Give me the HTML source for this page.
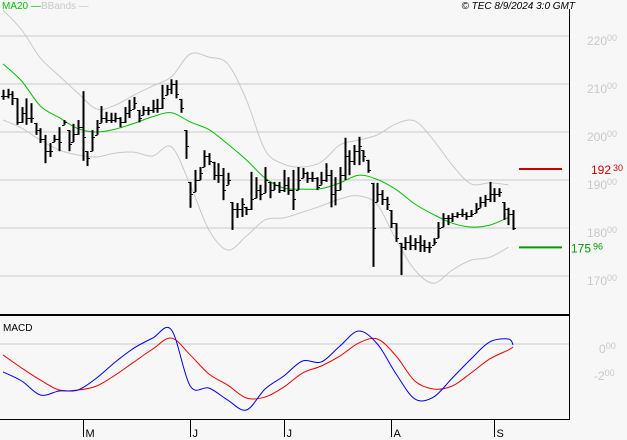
<!DOCTYPE html>
<html><head><meta charset="utf-8">
<style>
html,body{margin:0;padding:0;background:#f7f7f7;}
svg{display:block;font-family:"Liberation Sans",sans-serif;}
</style></head>
<body>
<svg id="chart" width="627" height="440" viewBox="0 0 627 440" xmlns="http://www.w3.org/2000/svg">
<rect x="0" y="0" width="627" height="440" fill="#f7f7f7"/>
<g id="grid"></g>
<g id="bands"></g>
<g id="ma"></g>
<g id="bars"></g>
<g id="macd"></g>
<g id="axes"></g>
<text x="2" y="9" font-size="10" fill="#00c000">MA20 —</text>
<text x="41" y="9" font-size="10" fill="#c8c8c8">BBands —</text>
<text x="575" y="9" font-size="10" font-style="italic" fill="#000" text-anchor="end">© TEC 8/9/2024 3:0 GMT</text>
<text x="3" y="331" font-size="10" fill="#000">MACD</text>
</svg>
<script>
const highs=[208.8,209,208.5,207,205.2,207,206,201.9,200.8,199.4,197.7,199.4,201,202.5,200.4,201.7,202.5,208.5,196,200.4,202.5,205.4,204.2,204,204,203.1,205.2,206.7,207.3,204.6,205.4,205.2,206.7,206.9,209.8,209.8,211,210.8,206.9,200.4,189.6,192.1,192.7,196.2,195.6,193.8,193.5,192.5,191.5,185.4,185.2,186.2,184.4,191.7,190.6,189,192.7,189.6,189.6,189.6,192.1,190.6,192.1,192.7,192.5,191.7,191.7,190.6,191.7,193.5,192.1,190.6,192.7,198.8,196.2,197.3,199,196.2,194.2,189.4,189.4,187.9,186.5,183.75,181,176.9,178.1,178.5,177.9,178.5,177.5,177.1,177.9,181.25,183.1,182.7,183.1,183.3,184,183.3,183.75,185.2,186.5,186.9,189.6,188.3,188.3,185.4,184.2,183.75];
const lows=[206.7,207,205.6,201.5,201.9,201.5,201.9,199.4,197.7,193.5,194.8,197.9,196,201.5,196,197.9,199.4,194,192.9,196,199.4,201.9,201.9,201.9,202,201,201.9,202.9,204.8,202,203.5,203.5,204,204,204.8,207.7,207.9,207,204,194.4,184.2,187.5,190,192.7,193.1,190,189.4,185.8,189,179.6,182.1,182.3,182.7,183.75,186.2,185.8,187.3,186.2,187.9,187.3,187.5,186.9,183.75,187.9,190.4,189.4,189.6,187.9,189,189.6,184.3,184.7,187.9,190,191,193.1,193.1,193.8,191.5,171.9,185.4,184.8,183.75,180,177.1,170.2,175.4,175.4,175.4,175,175,174.8,176.5,177.9,180.2,180.6,181.25,182.1,182.3,181.7,182.3,183.1,184.2,184.4,185.4,185.4,186.5,181.7,180.6,179.6];
const closes=[207.5,208,207,202,204,203,203,200.5,198.5,196,196,198.5,198,202,197.5,199.5,201,199,194.5,199,201,203,202.5,202.5,203,202,204,204.5,206,203,204.5,204.5,205,205,207,209,210,208,205,197,187,190,191.5,195,194,191,191,188,190,184,184,185,184,186,188,187,190,188,189,188,189,188,186,190,191.5,190.5,190.5,188.5,190,191,187,188,191,195,194,196,197,195,192,180,187,186,185,181,178,176,177,176.5,177,176.5,176,176,177,180,182,182,182.5,183,183,182.5,183,184,185.5,186,187,187,187.5,184,183,180];
// MA20 and Bollinger values sampled every 4 bars (last at final bar)
const ma20=[214.2,210.6,205.4,203,200.7,200,200.6,201.8,203.2,204,202.1,200.5,197.5,194.2,190.4,188.3,188.1,188.2,189.4,191,190.1,188,185,182.8,181,180.2,180.6,182.2];
const bbUpper=[225.4,221.25,215.4,211.7,208.1,204.8,205.6,207.7,209.6,211.5,216.25,215.6,214.2,206.7,196.25,193.3,192.7,193.75,197.3,198.3,199.4,201.7,202.3,198.3,193.1,189.2,189.4,189];
const bbLower=[202.5,200.8,198.3,196.25,195.2,194.8,195.6,195.8,195,196.9,189,179.6,175.4,178.3,181.7,182.1,183.3,184.6,186.05,186.7,184.8,177.5,171.25,168.5,171.25,173.3,173.9,176];
const macdLine=[-207,-274,-378,-348,-341,-252,-133,-30,44,104,-311,-326,-415,-489,-333,-237,-126,-133,-15,96,0,-222,-407,-393,-252,-111,15,37,-7];
const signalLine=[-81,-178,-267,-341,-341,-311,-230,-133,-37,44,-81,-222,-304,-400,-393,-319,-215,-163,-89,7,37,-89,-274,-333,-311,-215,-111,-44,-22];
const priceTicks=[220,210,200,190,180,170];
const macdTicks=[0,-200];
const months=["M","J","J","A","S"];
const monthBars=[17,40,60,83,105];
const resistance=192.30, support=175.96;

const NS="http://www.w3.org/2000/svg";
const xOf=i=>3+i*4.68;
const yP=p=>132+(200-p)*4.8;
const yM=v=>344-v*0.135;
function mk(tag,attrs,parent){const e=document.createElementNS(NS,tag);for(const k in attrs)e.setAttribute(k,attrs[k]);parent.appendChild(e);return e;}
const $=id=>document.getElementById(id);
const sampleIdx=k=>Math.min(k*4,highs.length-1);
function smooth(pts){
  let d='M'+pts[0][0]+','+pts[0][1];
  for(let i=0;i<pts.length-1;i++){
    const p0=pts[i-1]||pts[i],p1=pts[i],p2=pts[i+1],p3=pts[i+2]||p2;
    const c1=[p1[0]+(p2[0]-p0[0])/6,p1[1]+(p2[1]-p0[1])/6];
    const c2=[p2[0]-(p3[0]-p1[0])/6,p2[1]-(p3[1]-p1[1])/6];
    d+=' C'+c1[0]+','+c1[1]+' '+c2[0]+','+c2[1]+' '+p2[0]+','+p2[1];
  }
  return d;
}

priceTicks.forEach(p=>{
  const l=mk('line',{x1:0,x2:569,y1:yP(p),y2:yP(p),stroke:'#c8c8c8','stroke-width':1},$('grid'));
  
  
  const t=mk('text',{x:587,y:yP(p)+9,'font-size':12,fill:'#c8c8c8'},$('axes'));
  
  
  t.textContent=String(p);
  const s=mk('tspan',{'font-size':9,dy:-4},t);s.textContent='00';
});
[bbUpper,bbLower].forEach((arr,j)=>{
  const pts=arr.map((v,k)=>[xOf(sampleIdx(k)),yP(v)]);
  const pl=mk('path',{d:smooth(pts),fill:'none',stroke:'#c8c8c8','stroke-width':1},$('bands'));
  
  
});
{
  const pts=ma20.map((v,k)=>[xOf(sampleIdx(k)),yP(v)]);
  const pl=mk('path',{d:smooth(pts),fill:'none',stroke:'#00c000','stroke-width':1},$('ma'));
  
  
}
highs.forEach((h,i)=>{
  const x=Math.round(xOf(i))+0.5;
  const g=mk('g',{},$('bars'));
  
  
  mk('line',{x1:x,x2:x,y1:yP(h),y2:yP(lows[i]),stroke:'#000','stroke-width':2},g);
  const o=i>0?closes[i-1]:closes[i];
  const oy=Math.round(yP(Math.min(h,Math.max(lows[i],o))))+0.5;
  mk('line',{x1:x-2.5,x2:x,y1:oy,y2:oy,stroke:'#000','stroke-width':1},g);
  const cy=Math.round(yP(closes[i]))+0.5;
  mk('line',{x1:x,x2:x+2.5,y1:cy,y2:cy,stroke:'#000','stroke-width':1},g);
});
[[resistance,'#cc0000','resistance',591],[support,'#009900','support',571]].forEach(([v,c,n,lx])=>{
  const l=mk('line',{x1:519,x2:562,y1:yP(v),y2:yP(v),stroke:c,'stroke-width':2},$('axes'));
  
  
  const t=mk('text',{x:lx,y:yP(v)+5,'font-size':12,fill:c},$('axes'));
  
  
  const parts=v.toFixed(2).split('.');
  t.textContent=parts[0];
  const s=mk('tspan',{'font-size':9,dy:-3,dx:2},t);s.textContent=parts[1];
});
mk('line',{x1:0,x2:569,y1:yM(0),y2:yM(0),stroke:'#c8c8c8','stroke-width':1},$('macd'));
[[signalLine,'#ee0000','signal-line'],[macdLine,'#0000ee','macd-line']].forEach(([arr,c,n])=>{
  const pts=arr.map((v,k)=>[xOf(sampleIdx(k)),yM(v)]);
  const pl=mk('path',{d:smooth(pts),fill:'none',stroke:c,'stroke-width':1},$('macd'));
  
  
});
macdTicks.forEach(v=>{
  const t=mk('text',{x:v<0?594:599,y:yM(v)+9,'font-size':12,fill:'#c8c8c8'},$('axes'));
  
  
  t.textContent=v<0?'-2':'0';
  const s=mk('tspan',{'font-size':9,dy:-4},t);s.textContent='00';
});
mk('line',{x1:569.5,x2:569.5,y1:9,y2:420,stroke:'#000','stroke-width':1},$('axes'));
mk('line',{x1:0,x2:570,y1:315,y2:315,stroke:'#000','stroke-width':2},$('axes'));
mk('line',{x1:0,x2:570,y1:419.5,y2:419.5,stroke:'#000','stroke-width':1},$('axes'));
months.forEach((m,k)=>{
  const x=Math.round(xOf(monthBars[k]))+0.5;
  mk('line',{x1:x,x2:x,y1:419,y2:437,stroke:'#000','stroke-width':1},$('axes'));
  const t=mk('text',{x:x+2,y:437,'font-size':11,fill:'#000'},$('axes'));
  
  
  t.textContent=m;
});
</script>
</body></html>
